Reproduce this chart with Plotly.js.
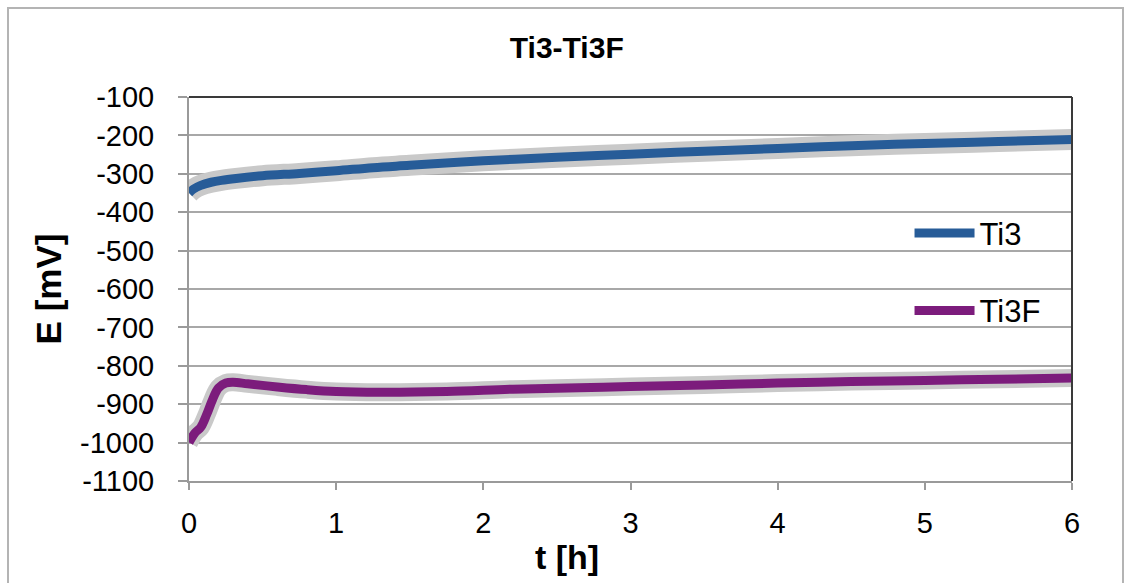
<!DOCTYPE html>
<html>
<head>
<meta charset="utf-8">
<script src="https://cdn.plot.ly/plotly-3.0.1.min.js"></script>
<style>
  html, body { margin: 0; padding: 0; background: #fff; }
  #wrap { position: relative; width: 1129px; height: 583px; overflow: hidden; }
  #frame { position: absolute; left: 7px; top: 7px; width: 1117px; height: 600px; border: 2px solid #b4b4b4; box-sizing: border-box; pointer-events: none; }
  #chart { position: absolute; left: 0; top: 0; width: 1129px; height: 583px; }
</style>
</head>
<body>
<div id="wrap">
  <div id="chart"></div>
  <div id="frame"></div>
</div>
<script>
// Ti3 series
const tTi3 = [0, 0.03, 0.08, 0.15, 0.22, 0.32, 0.5, 0.75, 1.0, 1.25, 1.5, 2.0, 2.5, 3.0, 3.5, 4.0, 4.5, 5.0, 5.5, 6.0];
const eTi3 = [-350, -340, -330, -322, -317, -312, -305, -299, -292, -284, -278, -266, -257, -249, -241, -234, -227, -221, -216, -211];
// Ti3F series
const tTi3F = [0, 0.04, 0.08, 0.12, 0.16, 0.2, 0.25, 0.3, 0.4, 0.6, 0.8, 1.0, 1.3, 1.75, 2.2, 2.65, 3.0, 3.5, 4.0, 4.5, 5.0, 5.5, 6.0];
const eTi3F = [-1000, -975, -960, -927, -888, -858, -845, -843, -847, -855, -862, -867, -869, -867, -861, -857, -854, -850, -845, -841, -838, -835, -832];
const seriesNames = ["Ti3", "Ti3F"];
const xTicks = [0, 1, 2, 3, 4, 5, 6];
const yTicks = [-100, -200, -300, -400, -500, -600, -700, -800, -900, -1000, -1100];
const titleText = "Ti3-Ti3F";
const xTitle = "t [h]";
const yTitle = "E [mV]";

const FONT = "Liberation Sans, Arial, sans-serif";
const bandColor = "#c9c9c9";

const traces = [
  { x: tTi3, y: eTi3, mode: "lines", line: { color: bandColor, width: 21, shape: "spline" }, showlegend: false, hoverinfo: "skip" },
  { x: tTi3F, y: eTi3F, mode: "lines", line: { color: bandColor, width: 18, shape: "spline" }, showlegend: false, hoverinfo: "skip" },
  { x: tTi3, y: eTi3, name: seriesNames[0], mode: "lines", line: { color: "#275c98", width: 9, shape: "spline" }, legendgroup: "a" },
  { x: tTi3F, y: eTi3F, name: seriesNames[1], mode: "lines", line: { color: "#7c1c7c", width: 9, shape: "spline" }, legendgroup: "b" }
];

const layout = {
  width: 1129, height: 583,
  margin: { l: 189, r: 57, t: 97, b: 102 },
  paper_bgcolor: "#ffffff", plot_bgcolor: "#ffffff",
  font: { family: FONT, color: "#000", size: 29 },
  title: { text: "<b>" + titleText + "</b>", x: 0.502, xanchor: "center", y: 0.918, yanchor: "middle", font: { family: FONT, size: 30, color: "#000" } },
  xaxis: {
    range: [0, 6], tickvals: xTicks, ticktext: xTicks.map(String),
    showgrid: false, zeroline: false,
    showline: true, linecolor: "#9a9a9a", linewidth: 2,
    ticks: "outside", ticklen: 7, tickcolor: "#9a9a9a", tickwidth: 2,
    ticklabelstandoff: 8,
    tickfont: { family: FONT, size: 29, color: "#000" }
  },
  yaxis: {
    range: [-1100, -100], tickvals: yTicks, ticktext: yTicks.map(String),
    showgrid: true, gridcolor: "#a8a8a8", gridwidth: 2, zeroline: false,
    showline: true, linecolor: "#9a9a9a", linewidth: 2,
    ticks: "outside", ticklen: 9, tickcolor: "#9a9a9a", tickwidth: 2,
    ticklabelstandoff: 18,
    tickfont: { family: FONT, size: 29, color: "#000" },
    title: { text: "<b>" + yTitle + "</b>", font: { family: FONT, size: 35, color: "#000" }, standoff: 8 }
  },
  annotations: [
    { text: "<b>" + xTitle + "</b>", xref: "paper", yref: "paper", x: 0.428, y: -0.198, xanchor: "center", yanchor: "middle", showarrow: false, font: { family: FONT, size: 34, color: "#000" } }
  ],
  legend: {
    x: 0.816, y: 0.715, xanchor: "left", yanchor: "top",
    bgcolor: "rgba(255,255,255,0)", borderwidth: 0,
    font: { family: FONT, size: 31, color: "#000" },
    tracegroupgap: 34, itemwidth: 60
  },
  shapes: [
    { type: "line", xref: "paper", yref: "paper", x0: 0, x1: 1, y0: 1, y1: 1, line: { color: "#3a3a3a", width: 2 } },
    { type: "line", xref: "paper", yref: "paper", x0: 1, x1: 1, y0: 0, y1: 1, line: { color: "#3a3a3a", width: 2 } }
  ]
};

Plotly.newPlot("chart", traces, layout, { displayModeBar: false, staticPlot: true });
</script>
</body>
</html>
